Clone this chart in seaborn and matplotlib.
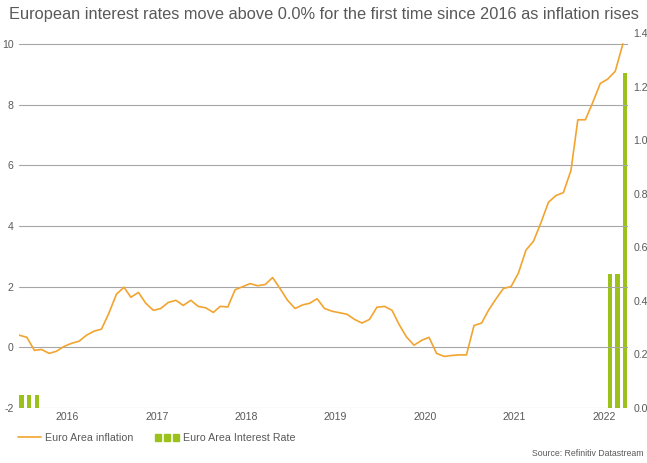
import matplotlib
matplotlib.use("Agg")
import matplotlib.pyplot as plt
import seaborn as sns
import pandas as pd
import numpy as np
from matplotlib.lines import Line2D
from matplotlib.patches import Rectangle
from matplotlib.legend_handler import HandlerTuple

# ---- data ----
start_month = "2015-12-01"
inflation = [
    0.40, 0.33, -0.10, -0.07, -0.20, -0.13, 0.03, 0.13, 0.20, 0.40, 0.53, 0.60,
    1.12, 1.75, 1.98, 1.65, 1.81, 1.45, 1.22, 1.28, 1.48, 1.55, 1.38, 1.55,
    1.35, 1.30, 1.15, 1.35, 1.33, 1.90, 2.00, 2.10, 2.03, 2.07, 2.30, 1.93,
    1.55, 1.28, 1.40, 1.45, 1.60, 1.28, 1.19, 1.14, 1.09, 0.92, 0.80, 0.92,
    1.32, 1.35, 1.22, 0.75, 0.33, 0.07, 0.23, 0.33, -0.20, -0.30, -0.27, -0.25,
    -0.25, 0.72, 0.80, 1.22, 1.60, 1.94, 2.00, 2.44, 3.20, 3.50, 4.10, 4.78,
    5.00, 5.10, 5.83, 7.50, 7.50, 8.07, 8.70, 8.84, 9.10, 10.00,
]
rate_months = ["2015-12-01", "2016-01-01", "2016-02-01",
               "2022-07-01", "2022-08-01", "2022-09-01"]
rate_values = [0.05, 0.05, 0.05, 0.5, 0.5, 1.25]
year_labels = ["2016", "2017", "2018", "2019", "2020", "2021", "2022"]
left_ticks = [-2, 0, 2, 4, 6, 8, 10]
right_ticks = [0.0, 0.2, 0.4, 0.6, 0.8, 1.0, 1.2, 1.4]

title = "European interest rates move above 0.0% for the first time since 2016 as inflation rises"
series_names = ["Euro Area inflation", "Euro Area Interest Rate"]
source = "Source: Refinitiv Datastream"

# ---- styling ----
LINE_C = "#F2A42F"
BAR_C = "#9BC21B"
GRID_C = "#A6A6A6"
TXT_C = "#595959"

sns.set_theme(style="white")
plt.rcParams["font.family"] = ["Liberation Sans", "DejaVu Sans"]

df = pd.DataFrame({
    "date": pd.date_range(start_month, periods=len(inflation), freq="MS"),
    "inflation": inflation,
})
rates = pd.DataFrame({"date": pd.to_datetime(rate_months), "rate": rate_values})

fig = plt.figure(figsize=(6.47, 4.63), dpi=100)
ax = fig.add_axes([19 / 647, 1 - 408 / 463, (628 - 19) / 647, (408 - 33) / 463])
ax2 = ax.twinx()

sns.lineplot(data=df, x="date", y="inflation", ax=ax, color=LINE_C, lw=1.2, zorder=3)

ax2.bar(rates["date"] + pd.Timedelta(days=9), rates["rate"], width=17,
        color=BAR_C, zorder=3, linewidth=0)

ax.set_xlim(pd.Timestamp("2015-11-30"), pd.Timestamp("2022-09-22"))
ax.set_ylim(-2, 10.36)
ax2.set_ylim(0, 1.4)

ax.set_yticks(left_ticks)
ax.set_yticklabels([str(t) for t in left_ticks])
ax2.set_yticks(right_ticks)
ax2.set_yticklabels([f"{t:.1f}" for t in right_ticks])

xt = [pd.Timestamp(f"{y}-06-15") for y in year_labels]
ax.set_xticks(xt)
ax.set_xticklabels(year_labels)

for a in (ax, ax2):
    for s in a.spines.values():
        s.set_visible(False)
    a.tick_params(length=0, labelsize=7.6, labelcolor=TXT_C)
    a.set_xlabel("")
    a.set_ylabel("")
    a.grid(False)
ax.tick_params(axis="y", pad=4)
ax2.tick_params(axis="y", pad=4)
ax.tick_params(axis="x", pad=3)

for t in left_ticks:
    ax.axhline(t, color=GRID_C, lw=0.8, zorder=1)

ax.set_zorder(ax2.get_zorder() + 1)
ax.patch.set_visible(False)

fig.text(0.5, 1 - 14 / 463, title, ha="center", va="center",
         fontsize=11.8, color=TXT_C)

h1 = Line2D([], [], color=LINE_C, lw=1.2)
bars = tuple(Rectangle((0, 0), 1, 1, color=BAR_C) for _ in range(3))
fig.legend([h1, bars], series_names,
           handler_map={tuple: HandlerTuple(ndivide=None, pad=0.35)},
           loc="center left", bbox_to_anchor=(8 / 647, 1 - 438 / 463),
           ncol=2, frameon=False, fontsize=7.7, labelcolor=TXT_C,
           handlelength=2.2, handletextpad=0.4, columnspacing=2.0)

fig.text(1 - 3 / 647, 1 - 453 / 463, source, ha="right", va="center",
         fontsize=6.3, color=TXT_C)

fig.savefig("out.png", dpi=100)
